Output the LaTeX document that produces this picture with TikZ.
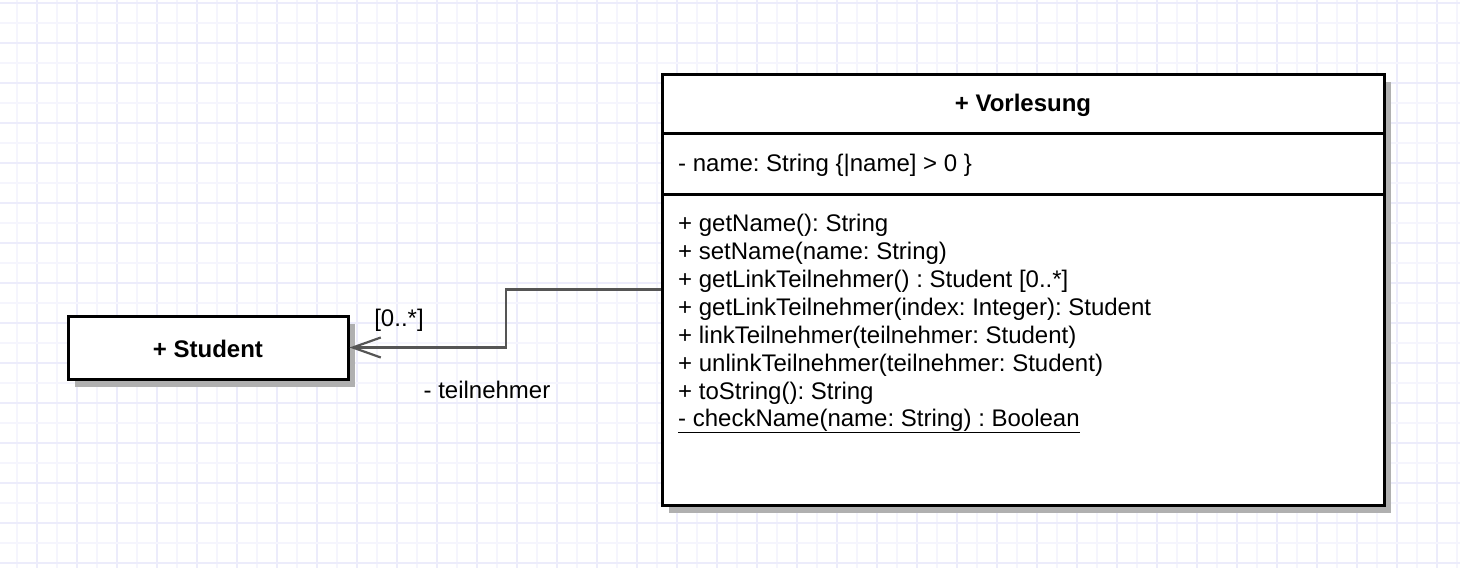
\documentclass[tikz,border=0pt]{standalone}
\usepackage{fontspec}
\setmainfont{Liberation Sans}
\usetikzlibrary{arrows.meta,shadows,calc}
\definecolor{gridA}{HTML}{ECECFB}
\definecolor{gridB}{HTML}{F5F5FD}
\definecolor{shad}{HTML}{B0B0B0}
\definecolor{conn}{HTML}{555555}
\tikzset{
  classbox/.style={draw=black, line width=3pt, fill=white,
    drop shadow={shadow xshift=7pt, shadow yshift=-8pt, fill=shad, opacity=1}},
  member/.style={anchor=west, inner sep=0pt, font=\fontsize{24}{28}\selectfont},
  title/.style={font=\bfseries\fontsize{24}{28}\selectfont, inner sep=0pt},
  connline/.style={draw=conn, line width=2.2pt},
  lbl/.style={inner sep=0pt, font=\fontsize{24}{28}\selectfont},
}
\begin{document}
\frenchspacing
\begin{tikzpicture}[x=1pt,y=-1pt]
\useasboundingbox (0,0) rectangle (1460,568);
\fill[white] (0,0) rectangle (1460,568);
% grid
\foreach \i in {0,...,36} {
  \draw[gridB, line width=1.6pt] (16.7+40*\i,0) -- (16.7+40*\i,568);
  \draw[gridA, line width=1.6pt] (36.7+40*\i,0) -- (36.7+40*\i,568);
}
\foreach \j in {0,...,14} {
  \draw[gridA, line width=1.6pt] (0,2.7+40*\j) -- (1460,2.7+40*\j);
  \draw[gridB, line width=1.6pt] (0,22.7+40*\j) -- (1460,22.7+40*\j);
}
% Student
\node[classbox, minimum width=280pt, minimum height=63pt] (stu) at (208,347.5) {};
\node[title] (stuT) at (208,349) {+ Student};
% Vorlesung
\node[classbox, minimum width=722pt, minimum height=431pt] (vor) at (1023,289.5) {};
\coordinate (s1w) at (662,133); \coordinate (s1e) at (1384,133);
\coordinate (s2w) at (662,194); \coordinate (s2e) at (1384,194);
\draw[line width=3pt] (s1w) -- (s1e);
\draw[line width=3pt] (s2w) -- (s2e);
\node[title] (vorT) at (1023,105) {+ Vorlesung};
\node[member] (a1) at (678,165) {- name: String \{|name] > 0 \}};
\node[member] (o1) at (678,225) {+ getName(): String};
\node[member] (o2) at (678,253) {+ setName(name: String)};
\node[member] (o3) at (678,281) {+ getLinkTeilnehmer() : Student [0..*]};
\node[member] (o4) at (678,309) {+ getLinkTeilnehmer(index: Integer): Student};
\node[member] (o5) at (678,337) {+ linkTeilnehmer(teilnehmer: Student)};
\node[member] (o6) at (678,365) {+ unlinkTeilnehmer(teilnehmer: Student)};
\node[member] (o7) at (678,393) {+ toString(): String};
\node[member] (o8) at (678,421) {\underline{- checkName(name: String) : Boolean}};
% connector
\coordinate (bend) at (506,320);
\draw[connline, -{Straight Barb[length=28pt,width=20pt,line width=2.2pt]}]
  (vor.west) -| (bend) |- (stu.east);
\node[lbl] (mult) at (399,320) {[0..*]};
\node[lbl] (role) at (487,390) {- teilnehmer};
\end{tikzpicture}
\end{document}
